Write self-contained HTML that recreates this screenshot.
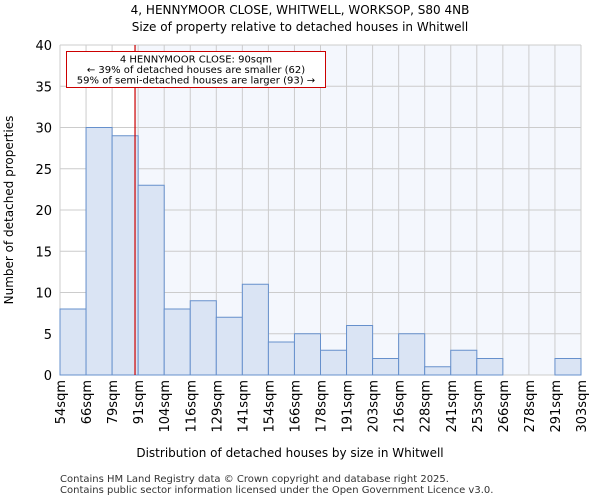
<!DOCTYPE html>
<html><head><meta charset="utf-8"><style>
body{margin:0;background:#fff;font-family:"DejaVu Sans","Liberation Sans",sans-serif;}
</style></head><body>
<svg width="600" height="500" xmlns="http://www.w3.org/2000/svg" font-family="DejaVu Sans, Liberation Sans, sans-serif">
<text x="300" y="14" text-anchor="middle" font-size="12">4, HENNYMOOR CLOSE, WHITWELL, WORKSOP, S80 4NB</text>
<text x="300" y="31" text-anchor="middle" font-size="12">Size of property relative to detached houses in Whitwell</text>
<g id="plot"></g>
<text x="290" y="457" text-anchor="middle" font-size="12">Distribution of detached houses by size in Whitwell</text>
<text transform="translate(13,210) rotate(-90)" text-anchor="middle" font-size="12">Number of detached properties</text>
<text x="60" y="482" font-size="10" fill="#333">Contains HM Land Registry data © Crown copyright and database right 2025.</text>
<text x="60" y="493" font-size="10" fill="#333">Contains public sector information licensed under the Open Government Licence v3.0.</text>
</svg>
<script>
const tickLabels=["54sqm","66sqm","79sqm","91sqm","104sqm","116sqm","129sqm","141sqm","154sqm","166sqm","178sqm","191sqm","203sqm","216sqm","228sqm","241sqm","253sqm","266sqm","278sqm","291sqm","303sqm"];
const counts=[8,30,29,23,8,9,7,11,4,5,3,6,2,5,1,3,2,0,0,2];
const yTicks=[0,5,10,15,20,25,30,35,40];
const markerBin=2.88;
const L=60,R=581,T=45,B=375,YMAX=40;
const ns="http://www.w3.org/2000/svg";
const g=document.getElementById('plot');
const bw=(R-L)/counts.length;
const x=i=>L+i*bw;
const y=v=>B-v/YMAX*(B-T);
function mk(t,a){const e=document.createElementNS(ns,t);for(const k in a)e.setAttribute(k,a[k]);g.appendChild(e);return e;}
const mx=x(markerBin);
let e=mk('rect',{x:mx,y:T,width:R-mx,height:B-T,fill:'#f4f7fd'});


for(let i=0;i<=counts.length;i++){e=mk('line',{x1:x(i),x2:x(i),y1:T,y2:B,stroke:'#ccc','stroke-width':1});

}
yTicks.forEach(v=>{e=mk('line',{x1:L,x2:R,y1:y(v),y2:y(v),stroke:'#ccc','stroke-width':1});


const t=mk('text',{x:L-8,y:y(v)+5,'text-anchor':'end','font-size':13});t.textContent=v;

});
counts.forEach((c,i)=>{if(!c)return;e=mk('rect',{x:x(i),y:y(c),width:bw,height:B-y(c),fill:'#dae4f4',stroke:'#6690cc','stroke-width':1});

});
tickLabels.forEach((s,i)=>{const t=mk('text',{transform:`translate(${x(i)+5},380) rotate(-90)`,'text-anchor':'end','font-size':13});t.textContent=s;

});
e=mk('line',{x1:mx,x2:mx,y1:T,y2:B,stroke:'#c00','stroke-width':1.2});


e=mk('rect',{x:66.5,y:51.5,width:259,height:36,fill:'#fff',stroke:'#c00','stroke-width':1});


["4 HENNYMOOR CLOSE: 90sqm","← 39% of detached houses are smaller (62)","59% of semi-detached houses are larger (93) →"].forEach((s,i)=>{const t=mk('text',{x:196,y:62.5+i*10.5,'text-anchor':'middle','font-size':10});t.textContent=s;

});
</script>
</body></html>
